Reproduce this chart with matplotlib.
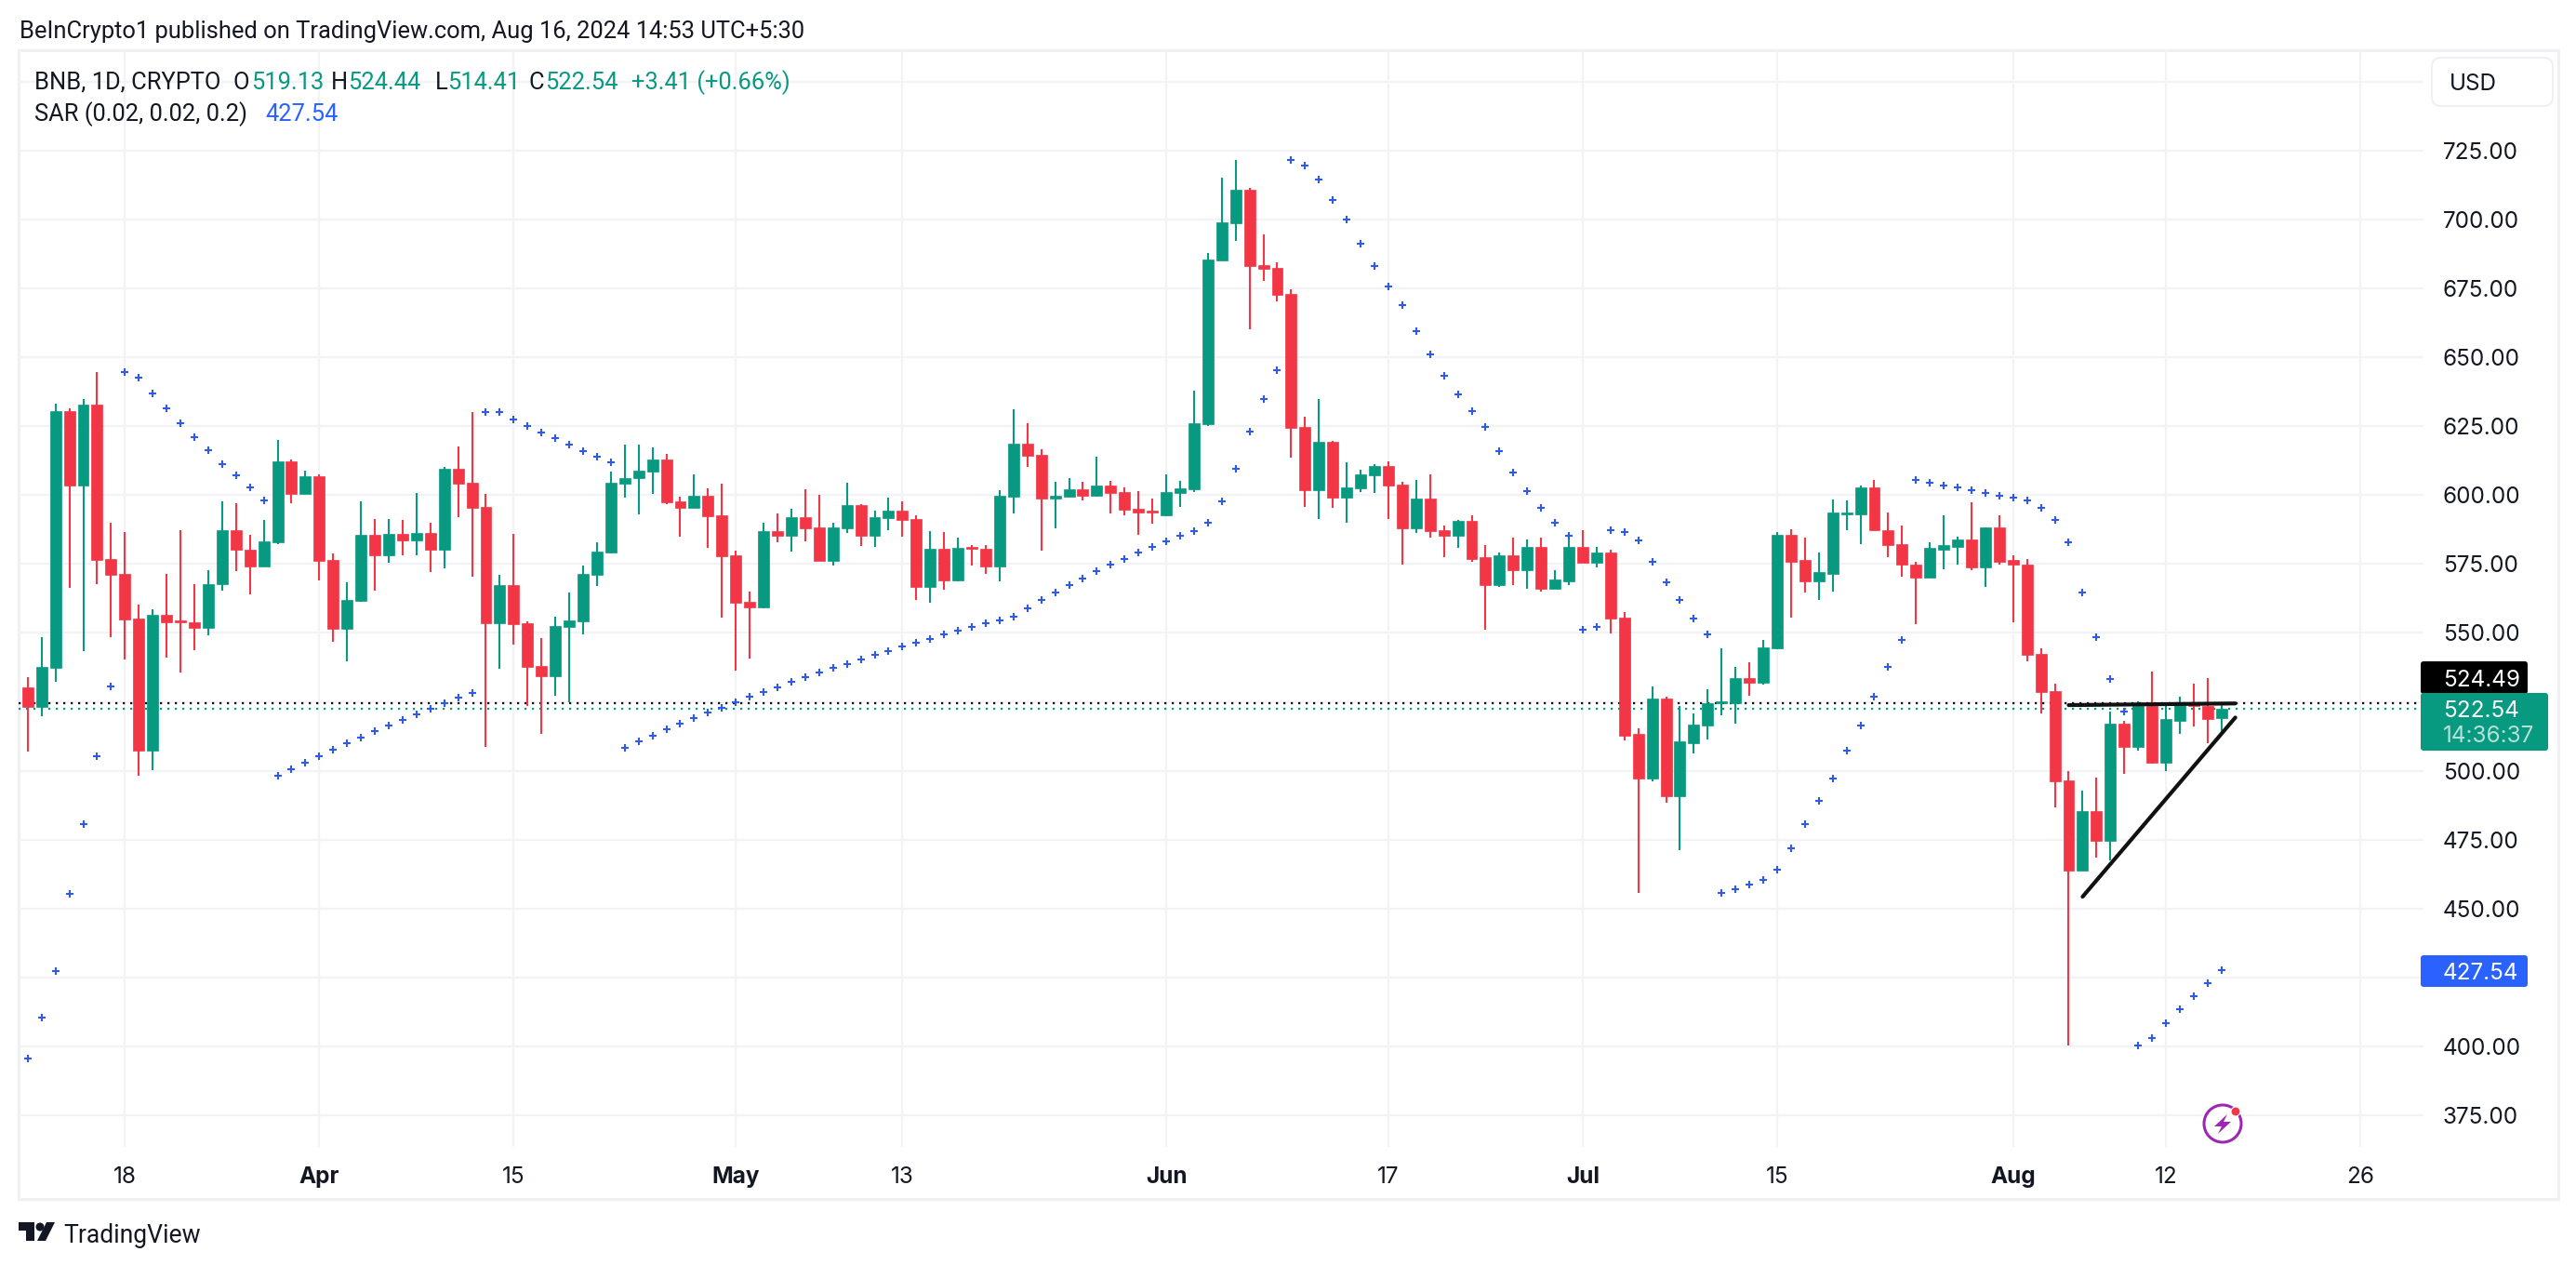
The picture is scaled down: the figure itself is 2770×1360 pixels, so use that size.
import matplotlib
matplotlib.use('Agg')
import matplotlib.dates as mdates
import matplotlib.pyplot as plt
import numpy as np
import pandas as pd
from matplotlib.patches import Circle, FancyBboxPatch, Polygon, Rectangle

# daily candles
opens = [
    530.2, 523.1, 537.4, 630.5, 603.4, 632.9, 576.7, 571.3, 555.1, 507.4,
    556.5, 554.4, 553.8, 551.8, 567.6, 587.1, 580.3, 574.1, 582.7, 612.3,
    600.5, 606.9, 576.3, 551.4, 561.5, 585.4, 578.0, 585.8, 583.6, 586.4,
    580.3, 609.6, 604.5, 595.8, 553.4, 567.2, 553.4, 538.0, 534.2, 552.0,
    554.1, 570.9, 579.3, 604.2, 606.2, 608.6, 612.9, 597.7, 595.4, 599.7,
    592.6, 578.1, 561.2, 559.2, 586.9, 585.2, 591.9, 588.2, 576.1, 587.9,
    596.3, 585.2, 591.6, 594.3, 591.3, 566.6, 580.5, 569.0, 581.1, 580.5,
    574.0, 599.4, 618.6, 614.5, 598.7, 599.4, 602.0, 599.7, 603.4, 601.0,
    595.0, 594.3, 592.8, 600.7, 602.1, 625.7, 685.1, 698.6, 710.7, 683.4,
    682.4, 672.9, 624.7, 601.7, 619.3, 599.0, 602.4, 607.1, 610.5, 603.7,
    587.9, 598.7, 587.2, 585.2, 590.6, 577.3, 567.5, 578.0, 572.6, 581.3,
    566.1, 568.8, 581.3, 575.6, 579.3, 555.7, 513.2, 497.3, 526.3, 490.6,
    510.1, 516.5, 524.6, 524.6, 533.7, 532.0, 544.5, 585.4, 576.3, 568.8,
    571.5, 593.1, 593.1, 602.6, 587.4, 582.3, 574.9, 570.2, 580.3, 581.3,
    584.0, 573.9, 588.1, 576.3, 574.9, 542.5, 529.0, 496.6, 463.6, 485.2,
    474.7, 517.2, 508.8, 523.6, 503.0, 518.2, 524.6, 523.5, 519.13,
]
highs = [
    534.0, 548.3, 633.1, 631.3, 634.8, 644.6, 590.1, 586.7, 560.4, 558.7,
    571.3, 587.4, 567.8, 572.9, 597.8, 597.1, 585.4, 591.1, 620.0, 612.9,
    608.9, 607.6, 578.7, 568.2, 597.8, 591.4, 591.4, 591.1, 600.9, 590.1,
    610.2, 617.7, 630.2, 600.5, 570.9, 586.0, 554.2, 548.0, 555.8, 564.5,
    574.3, 582.7, 608.6, 618.4, 618.4, 617.2, 614.9, 599.4, 607.5, 602.4,
    604.1, 579.8, 564.9, 589.9, 593.3, 595.0, 602.0, 600.0, 589.9, 604.4,
    596.7, 594.3, 599.0, 597.7, 592.6, 586.9, 586.5, 584.5, 581.8, 581.8,
    601.7, 631.1, 626.0, 616.6, 604.8, 606.1, 604.8, 613.9, 605.1, 602.7,
    601.4, 598.7, 607.5, 605.1, 637.8, 687.8, 715.1, 721.5, 711.4, 694.5,
    684.4, 674.6, 628.4, 634.8, 619.6, 611.8, 609.1, 611.2, 612.2, 604.8,
    605.4, 607.5, 588.9, 590.9, 592.6, 581.7, 579.3, 584.4, 584.0, 584.4,
    572.9, 584.0, 587.4, 581.3, 580.0, 557.4, 515.5, 530.7, 526.7, 523.6,
    520.9, 529.4, 544.5, 537.5, 539.5, 547.6, 586.7, 587.7, 584.4, 579.3,
    598.5, 598.2, 603.6, 605.6, 593.5, 589.1, 575.9, 582.7, 592.8, 585.0,
    597.2, 588.1, 592.8, 578.0, 576.9, 544.5, 531.7, 499.7, 492.9, 497.6,
    521.6, 518.2, 525.3, 535.8, 524.4, 527.0, 531.7, 533.7, 524.44,
]
lows = [
    507.0, 519.8, 532.2, 566.3, 543.4, 567.8, 548.3, 540.3, 498.3, 500.3,
    541.0, 535.7, 543.6, 549.1, 565.2, 572.3, 563.8, 574.1, 582.3, 597.1,
    600.5, 568.9, 546.7, 539.6, 561.1, 565.2, 575.6, 578.3, 578.0, 572.0,
    573.3, 592.1, 570.5, 508.8, 536.9, 545.6, 523.6, 513.5, 527.1, 524.9,
    549.4, 566.9, 578.7, 599.2, 592.9, 600.4, 596.8, 584.8, 595.4, 580.8,
    555.5, 536.4, 540.6, 558.9, 582.8, 579.4, 583.2, 576.1, 574.4, 586.2,
    581.5, 581.1, 587.2, 584.8, 561.9, 560.9, 565.6, 568.6, 574.4, 571.3,
    568.6, 593.3, 610.2, 579.8, 587.9, 599.4, 598.0, 599.4, 593.3, 592.6,
    585.5, 589.6, 592.3, 595.6, 601.0, 625.0, 685.1, 692.2, 660.1, 677.6,
    670.2, 613.5, 595.6, 591.3, 595.3, 589.9, 601.0, 600.7, 591.3, 574.7,
    586.2, 584.5, 577.4, 580.8, 575.7, 551.3, 566.5, 567.5, 566.1, 565.1,
    566.1, 567.5, 575.6, 573.6, 549.9, 511.1, 455.5, 496.0, 488.5, 471.3,
    506.4, 511.5, 520.2, 517.2, 527.3, 531.4, 544.2, 555.7, 564.8, 561.8,
    565.1, 587.1, 582.3, 587.1, 577.6, 570.5, 553.3, 570.2, 573.2, 574.6,
    572.6, 566.8, 574.9, 553.7, 539.8, 520.9, 486.8, 400.3, 463.6, 468.6,
    467.6, 499.0, 507.4, 502.4, 499.7, 513.2, 515.9, 510.1, 514.41,
]
closes = [
    523.1, 537.6, 630.5, 603.4, 632.9, 576.4, 571.0, 554.8, 507.4, 556.5,
    553.8, 553.8, 551.8, 567.8, 587.1, 580.0, 574.1, 583.1, 612.3, 600.5,
    606.9, 576.1, 551.4, 561.8, 585.4, 578.0, 585.8, 583.6, 586.4, 580.0,
    609.6, 604.2, 595.5, 553.4, 567.2, 553.1, 537.6, 534.2, 552.4, 554.4,
    571.3, 579.6, 604.5, 606.2, 608.9, 612.9, 597.3, 595.4, 599.7, 592.3,
    577.8, 560.9, 559.2, 586.9, 585.2, 591.9, 587.9, 576.1, 588.2, 596.3,
    585.2, 591.9, 594.3, 590.9, 566.6, 580.5, 569.0, 580.8, 580.5, 574.0,
    599.7, 618.6, 614.2, 598.7, 599.7, 602.0, 599.7, 603.4, 600.7, 594.6,
    593.6, 593.6, 601.0, 602.4, 626.0, 685.4, 698.9, 710.7, 683.0, 682.0,
    672.6, 624.3, 601.7, 619.3, 599.0, 602.7, 607.5, 610.5, 603.4, 587.9,
    598.7, 586.9, 585.2, 590.6, 576.7, 567.5, 578.0, 572.6, 581.3, 566.1,
    569.2, 581.3, 575.6, 579.3, 555.3, 512.8, 497.3, 526.3, 490.6, 510.5,
    516.9, 524.6, 525.2, 533.7, 532.0, 544.9, 585.4, 575.9, 568.8, 571.9,
    593.5, 593.8, 602.6, 587.1, 582.0, 574.6, 570.2, 580.7, 581.7, 584.0,
    573.9, 588.1, 575.9, 574.6, 542.2, 528.7, 496.3, 463.6, 485.2, 474.7,
    517.2, 508.8, 523.6, 503.0, 518.6, 524.4, 523.5, 518.9, 522.54,
]
# parabolic SAR, one dot per candle
sar = [
    395.6, 410.5, 427.3, 455.3, 480.8, 505.3, 530.5, 644.6, 642.6, 636.9,
    631.5, 626.1, 621.1, 616.1, 611.3, 607.0, 602.7, 598.2, 498.2, 500.5,
    502.9, 505.3, 507.6, 510.0, 512.0, 514.3, 516.4, 518.4, 520.4, 522.5,
    524.5, 526.5, 528.2, 630.2, 630.2, 627.4, 625.1, 622.7, 620.7, 618.4,
    616.0, 614.0, 611.9, 508.2, 510.6, 512.6, 515.0, 517.0, 519.0, 521.0,
    522.8, 524.8, 526.8, 528.5, 530.2, 532.2, 533.9, 535.6, 537.3, 538.6,
    540.3, 542.0, 543.3, 545.0, 546.4, 547.7, 549.4, 550.8, 552.1, 553.5,
    554.5, 555.8, 558.9, 561.9, 564.6, 567.3, 569.7, 572.4, 574.7, 576.7,
    579.1, 581.1, 583.2, 585.2, 586.9, 589.9, 597.7, 609.5, 623.0, 634.8,
    645.2, 721.5, 719.5, 714.4, 707.0, 699.9, 691.1, 683.0, 675.6, 668.9,
    659.4, 651.0, 643.2, 636.5, 630.4, 624.7, 615.9, 608.1, 601.4, 595.3,
    589.9, 585.2, 551.3, 552.0, 587.4, 586.5, 583.4, 575.9, 568.5, 561.8,
    555.3, 549.3, 455.5, 457.1, 458.8, 460.5, 464.2, 471.7, 480.8, 489.2,
    497.3, 507.4, 516.5, 527.0, 537.8, 547.6, 605.6, 604.6, 603.6, 602.6,
    601.6, 600.6, 599.6, 598.9, 597.9, 595.5, 591.1, 582.7, 564.5, 548.3,
    533.4, 521.6, 400.5, 403.1, 408.4, 413.6, 418.3, 423.1, 427.5,
]
first_day = '2024-03-11'

price_ticks = [375, 400, 425, 450, 475, 500, 525, 550, 575, 600, 625, 650, 675, 700, 725, 750]
price_labels = [375, 400, 450, 475, 500, 550, 575, 600, 625, 650, 675, 700, 725]
date_ticks = ['2024-03-18', '2024-04-01', '2024-04-15', '2024-05-01', '2024-05-13', '2024-06-01',
              '2024-06-17', '2024-07-01', '2024-07-15', '2024-08-01', '2024-08-12', '2024-08-26']
date_labels = ['18', 'Apr', '15', 'May', '13', 'Jun', '17', 'Jul', '15', 'Aug', '12', '26']
month_labels = ['Apr', 'May', 'Jun', 'Jul', 'Aug']

support_days = ['2024-08-06', '2024-08-17']
support_prices = [454.3, 519.3]
resistance_days = ['2024-08-05', '2024-08-17']
resistance_prices = [523.8, 524.4]

GREEN = '#089981'
RED = '#F23645'
BLUE = '#2962FF'
GRID = '#F2F3F6'
TEXT = '#131722'
W, H = 2770, 1360
FONT = ['Inter', 'DejaVu Sans']
FONT_TOP = ['Roboto', 'DejaVu Sans']
SIZE_TOP = 18.4
SIZE_SCALE = 17.5
plt.rcParams['font.family'] = FONT

fig = plt.figure(figsize=(W / 100, H / 100), dpi=100, facecolor='white')

# pixel canvas for everything that is not price data
bg = fig.add_axes([0, 0, 1, 1])
bg.set_xlim(0, W)
bg.set_ylim(H, 0)
bg.axis('off')
bg.add_patch(Rectangle((20, 53.5), 2731, 1235, fc='white', ec='#EFF0F3', lw=2.2))

# chart pane
left, right, top, bottom = 20, 2606, 54, 1233
ax = fig.add_axes([left / W, 1 - bottom / H, (right - left) / W, (bottom - top) / H])
ax.patch.set_alpha(0)
for spine in ax.spines.values():
    spine.set_visible(False)

days = mdates.date2num(pd.date_range(first_day, periods=len(closes)))
day0 = mdates.date2num(pd.Timestamp('2024-03-18'))
ax.set_xlim(day0 + (left - 134.3) / 14.93, day0 + (right - 134.3) / 14.93)
ax.set_ylim(725 - (bottom - 161.7) / 2.964, 725 - (top - 161.7) / 2.964)

tick_days = mdates.date2num(pd.to_datetime(date_ticks))
ax.set_xticks(tick_days)
ax.set_yticks(price_ticks)
ax.set_xticklabels([])
ax.set_yticklabels([])
ax.tick_params(length=0)
ax.grid(True, color=GRID, lw=1.6)
ax.set_axisbelow(True)

o, h, l, c = map(np.array, (opens, highs, lows, closes))
colors = [GREEN if cl >= op else RED for op, cl in zip(o, c)]
ax.vlines(days, l, h, colors=colors, lw=1.5, zorder=2)
ax.bar(days, c - o, bottom=o, width=0.8, color=colors, edgecolor=colors, lw=0.5, zorder=3)

ax.plot(days, sar, ls='none', marker='+', ms=6, mew=1.5, color='#3059E6', zorder=4)

ax.axhline(524.49, color='black', lw=1.6, ls=(0, (1, 2.6)), zorder=1.5)
ax.axhline(closes[-1], color=GREEN, lw=1.6, ls=(0, (1, 2.6)), zorder=1.5)

ax.plot(mdates.date2num(pd.to_datetime(resistance_days)), resistance_prices, color='#111', lw=3,
        solid_capstyle='round', zorder=5)
ax.plot(mdates.date2num(pd.to_datetime(support_days)), support_prices, color='#111', lw=3,
        solid_capstyle='round', zorder=5)


def px_text(x, y, s, **kwargs):
    kwargs.setdefault('va', 'center_baseline')
    kwargs.setdefault('color', TEXT)
    return bg.text(x, y, s, **kwargs)


# price scale
for p in price_labels:
    yy = 161.7 + (725 - p) * 2.964
    px_text(2627, yy, '%.2f' % p, fontsize=SIZE_SCALE, zorder=8)

# date scale
for d, s in zip(tick_days, date_labels):
    xx = 134.3 + (d - day0) * 14.93
    px_text(xx, 1263, s, fontsize=SIZE_SCALE, ha='center', zorder=8,
            fontweight='bold' if s in month_labels else 'normal')

# last value tags
bg.set_zorder(0)
ax.set_zorder(1)
top_ax = fig.add_axes([0, 0, 1, 1], zorder=2)
top_ax.set_xlim(0, W)
top_ax.set_ylim(H, 0)
top_ax.axis('off')
top_ax.patch.set_alpha(0)


def tag(y0, y1, x1, color):
    top_ax.add_patch(FancyBboxPatch((2606, y0 + 3), x1 - 2606 - 3, y1 - y0 - 6,
                                    boxstyle='round,pad=3,rounding_size=3', fc=color, ec='none'))
    top_ax.add_patch(Rectangle((2606, y0), 6, y1 - y0, fc=color, ec='none'))


tag(711, 746, 2718, 'black')
tag(1027, 1061, 2718, BLUE)
tag(745, 807, 2740, GREEN)
top_ax.text(2627, 728.5, '524.49', color='white', fontsize=SIZE_SCALE, va='center_baseline')
top_ax.text(2627, 762, '522.54', color='white', fontsize=SIZE_SCALE, va='center_baseline')
top_ax.text(2627, 789, '14:36:37', color='#B5E0D8', fontsize=SIZE_SCALE, va='center_baseline')
top_ax.text(2627, 1044, '427.54', color='white', fontsize=SIZE_SCALE, va='center_baseline')

# currency button
top_ax.add_patch(FancyBboxPatch((2625, 72), 110, 32, boxstyle='round,pad=10,rounding_size=10',
                                fc='white', ec='#EFF0F3', lw=1.5))
top_ax.text(2634, 88, 'USD', color=TEXT, fontsize=SIZE_SCALE, va='center_baseline')

# header and legend
top_ax.text(21, 32, 'BeInCrypto1 published on TradingView.com, Aug 16, 2024 14:53 UTC+5:30',
            color=TEXT, fontsize=SIZE_TOP, family=FONT_TOP, va='center_baseline')
legend_row = [(37, 'BNB, 1D, CRYPTO', TEXT), (251, 'O', TEXT), (270, '519.13', GREEN),
              (356, 'H', TEXT), (374, '524.44', GREEN), (468, 'L', TEXT), (481, '514.41', GREEN),
              (568, 'C', TEXT), (586, '522.54', GREEN), (679, '+3.41 (+0.66%)', GREEN)]
for x, s, col in legend_row:
    top_ax.text(x, 86, s, color=col, fontsize=SIZE_TOP, family=FONT_TOP, va='center_baseline')
top_ax.text(37, 120, 'SAR (0.02, 0.02, 0.2)', color=TEXT, fontsize=SIZE_TOP, family=FONT_TOP, va='center_baseline')
top_ax.text(285, 120, '427.54', color=BLUE, fontsize=SIZE_TOP, family=FONT_TOP, va='center_baseline')

# footer logo
top_ax.add_patch(Polygon([(20, 1314), (37, 1314), (37, 1334), (28, 1334), (28, 1323), (20, 1323)], fc=TEXT, ec='none'))
top_ax.add_patch(Circle((43, 1319), 4.5, fc=TEXT, ec='none'))
top_ax.add_patch(Polygon([(50, 1314), (59, 1314), (49, 1334), (40, 1334)], fc=TEXT, ec='none'))
top_ax.text(68, 1326, 'TradingView', color=TEXT, fontsize=19.1, family=FONT_TOP, va='center_baseline')

# lightning badge
top_ax.add_patch(Circle((2390, 1208), 20, fc='white', ec='#9C27B0', lw=2.2))
top_ax.add_patch(Polygon([(2395, 1198), (2381, 1211), (2389, 1211), (2385, 1219), (2399, 1206), (2391, 1206)],
                         fc='#9C27B0', ec='none'))
top_ax.add_patch(Circle((2404, 1195), 5, fc=RED, ec='white', lw=0.8))

fig.savefig('out.png', dpi=100, facecolor='white')
